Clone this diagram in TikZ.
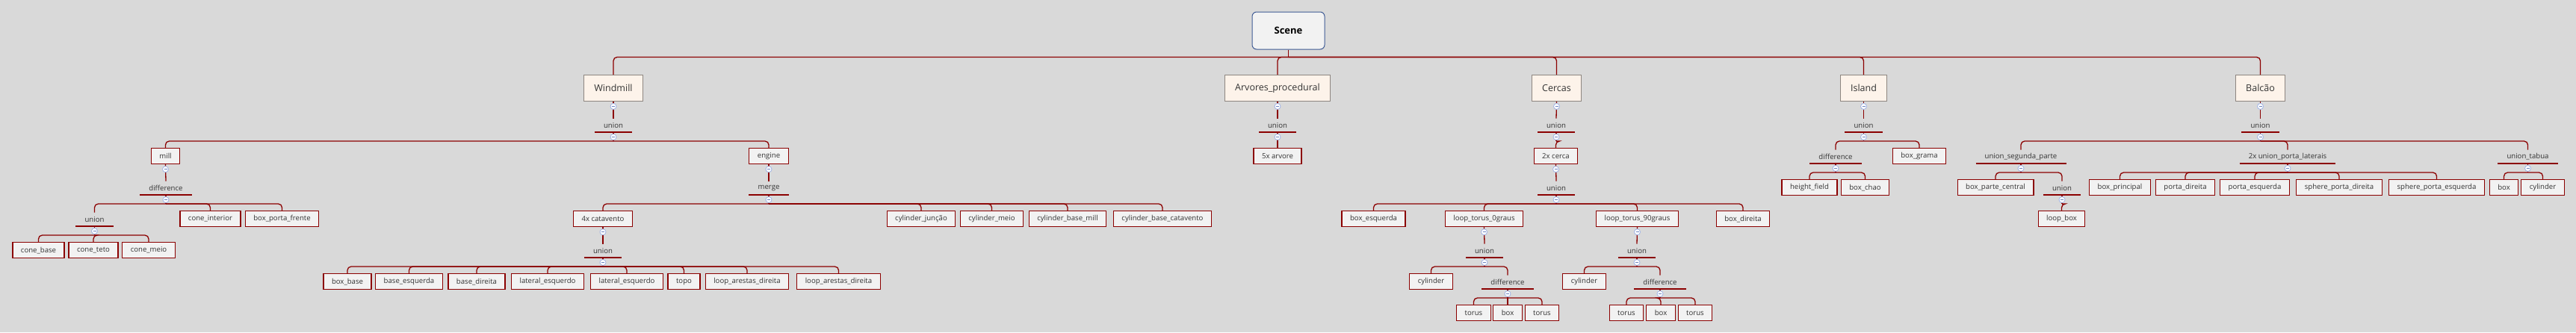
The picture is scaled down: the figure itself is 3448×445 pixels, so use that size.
\documentclass[tikz,border=0pt]{standalone}
\usepackage{fontspec}
\setmainfont{Open Sans}
\usepackage{tikz}

\definecolor{bggrey}{HTML}{D9D9D9}
\definecolor{linkred}{HTML}{8B0000}
\definecolor{leaffill}{HTML}{F2F2F2}
\definecolor{topicfill}{HTML}{FDF3EA}
\definecolor{topicline}{HTML}{8E8680}
\definecolor{rootline}{HTML}{3E5A94}
\definecolor{textgrey}{HTML}{333333}
\definecolor{foldblue}{HTML}{9FB3E6}
\definecolor{foldminus}{HTML}{6F86C0}

\newcommand\leaffont{\fontsize{9.6}{11}\selectfont}
\newcommand\topicfont{\fontsize{12.5}{14}\selectfont}
\newcommand\rootfont{\fontsize{13}{15}\selectfont\bfseries}

\begin{document}
\begin{tikzpicture}[x=1pt, y=-1pt,
    root/.style={draw=rootline, fill=leaffill, line width=1pt, rounded corners=6pt,
        minimum width=97pt, minimum height=50pt, font=\rootfont, text=black},
    topic/.style={draw=topicline, fill=topicfill, line width=1pt, anchor=north,
        minimum height=35pt, inner xsep=13.5pt, font=\topicfont, text=textgrey},
    leaf/.style={draw=linkred, fill=leaffill, line width=1.2pt, anchor=north,
        minimum height=21pt, inner xsep=11pt, inner ysep=0pt, font=\leaffont, text=textgrey},
    op/.style={anchor=south, minimum height=18pt, inner xsep=12pt, inner ysep=0pt,
        font=\leaffont, text=textgrey,
        append after command={(\tikzlastnode.south west) edge[underline] (\tikzlastnode.south east)}},
    underline/.style={draw=linkred, line width=1.4pt},
    link/.style={draw=linkred, line width=1.3pt, rounded corners=5pt},
    fold/.style={circle, draw=foldblue, fill=white, line width=0.8pt, minimum size=8pt, inner sep=0pt,
        path picture={\draw[foldminus, line width=1pt]
            ([xshift=-2pt]path picture bounding box.center) -- ([xshift=2pt]path picture bounding box.center);}}
]
    % Fundo
    \fill[bggrey] (0,0) rectangle (3448,445);
    \useasboundingbox (0,0) rectangle (3448,445);

    % Raiz
    \node[root] (scene) at (1724.5,41) {Scene};

    % Windmill
    \node[topic] (windmill) at (821,100) {Windmill};
    \node[op] (wm-union) at (821,177) {union};
    \node[leaf] (mill) at (221.5,198) {mill};
    \node[leaf] (engine) at (1029,198) {engine};
    \node[op] (mill-diff) at (222,261) {difference};
    \node[op] (mill-union) at (126.5,303) {union};
    \node[leaf] (cone-interior) at (281.5,282) {cone\_interior};
    \node[leaf] (porta-frente) at (377.5,282) {box\_porta\_frente};
    \node[leaf] (cone-base) at (51.5,324) {cone\_base};
    \node[leaf] (cone-teto) at (125,324) {cone\_teto};
    \node[leaf] (cone-meio) at (199,324) {cone\_meio};
    \node[op] (eng-merge) at (1029,261) {merge};
    \node[leaf] (catavento) at (807,282) {4x catavento};
    \node[leaf] (cyl-juncao) at (1233,282) {cylinder\_junção};
    \node[leaf] (cyl-meio) at (1327.5,282) {cylinder\_meio};
    \node[leaf] (cyl-base-mill) at (1429,282) {cylinder\_base\_mill};
    \node[leaf] (cyl-base-cat) at (1556,282) {cylinder\_base\_catavento};
    \node[op] (cat-union) at (807,345) {union};
    \node[leaf] (box-base) at (465,366) {box\_base};
    \node[leaf] (base-esq) at (547.5,366) {base\_esquerda};
    \node[leaf] (base-dir) at (638,366) {base\_direita};
    \node[leaf] (lat-esq-a) at (733,366) {lateral\_esquerdo};
    \node[leaf] (lat-esq-b) at (839,366) {lateral\_esquerdo};
    \node[leaf] (topo) at (915.5,366) {topo};
    \node[leaf] (loop-dir-a) at (1000,366) {loop\_arestas\_direita};
    \node[leaf] (loop-dir-b) at (1122.5,366) {loop\_arestas\_direita};

    % Arvores
    \node[topic] (arvores) at (1710,100) {Arvores\_procedural};
    \node[op] (arv-union) at (1710,177) {union};
    \node[leaf] (arvore) at (1710,198) {5x arvore};

    % Cercas
    \node[topic] (cercas) at (2083.5,100) {Cercas};
    \node[op] (cer-union) at (2083,177) {union};
    \node[leaf] (cerca) at (2082.5,198) {2x cerca};
    \node[op] (cerca-union) at (2083,261) {union};
    \node[leaf] (box-esq) at (1838.5,282) {box\_esquerda};
    \node[leaf] (torus0) at (1986.5,282) {loop\_torus\_0graus};
    \node[leaf] (torus90) at (2191.5,282) {loop\_torus\_90graus};
    \node[leaf] (box-dir) at (2333,282) {box\_direita};
    \node[op] (t0-union) at (1987,345) {union};
    \node[leaf] (t0-cyl) at (1915.5,366) {cylinder};
    \node[op] (t0-diff) at (2018,387) {difference};
    \node[leaf] (t0-ta) at (1972.5,408) {torus};
    \node[leaf] (t0-box) at (2018,408) {box};
    \node[leaf] (t0-tb) at (2064,408) {torus};
    \node[op] (t90-union) at (2191,345) {union};
    \node[leaf] (t90-cyl) at (2120.5,366) {cylinder};
    \node[op] (t90-diff) at (2222,387) {difference};
    \node[leaf] (t90-ta) at (2177,408) {torus};
    \node[leaf] (t90-box) at (2223,408) {box};
    \node[leaf] (t90-tb) at (2269,408) {torus};

    % Island
    \node[topic] (island) at (2494.5,100) {Island};
    \node[op] (isl-union) at (2494.5,177) {union};
    \node[op] (isl-diff) at (2457,219) {difference};
    \node[leaf] (grama) at (2569,198) {box\_grama};
    \node[leaf] (height) at (2422,240) {height\_field};
    \node[leaf] (chao) at (2496.5,240) {box\_chao};

    % Balcao
    \node[topic] (balcao) at (3025.5,100) {Balcão};
    \node[op] (bal-union) at (3025.5,177) {union};
    \node[op] (segunda) at (2705,219) {union\_segunda\_parte};
    \node[op] (laterais) at (3062,219) {2x union\_porta\_laterais};
    \node[op] (tabua) at (3383.5,219) {union\_tabua};
    \node[leaf] (parte-central) at (2671,240) {box\_parte\_central};
    \node[op] (seg-union) at (2760,261) {union};
    \node[leaf] (loop-box) at (2759.5,282) {loop\_box};
    \node[leaf] (principal) at (2837.5,240) {box\_principal};
    \node[leaf] (porta-dir) at (2925,240) {porta\_direita};
    \node[leaf] (porta-esq) at (3018,240) {porta\_esquerda};
    \node[leaf] (sphere-dir) at (3131,240) {sphere\_porta\_direita};
    \node[leaf] (sphere-esq) at (3261.5,240) {sphere\_porta\_esquerda};
    \node[leaf] (tabua-box) at (3351.5,240) {box};
    \node[leaf] (tabua-cyl) at (3403.5,240) {cylinder};

    % Ligacoes da raiz
    \draw[link] (scene.south) -- ++(0,10);
    \foreach \c in {windmill,arvores,cercas,island,balcao}
        \draw[link] (scene.south) ++(0,10) -| (\c.north);

    % No -> operacao
    \foreach \p/\o in {windmill/wm-union, mill/mill-diff, engine/eng-merge, catavento/cat-union,
            arvores/arv-union, cercas/cer-union, cerca/cerca-union, torus0/t0-union,
            torus90/t90-union, island/isl-union, balcao/bal-union}
        \draw[link] (\p.south) -- (\o.north);

    % Operacao -> filhos
    \foreach \o/\kids in {wm-union/{mill,engine},
            mill-diff/{mill-union,cone-interior,porta-frente},
            mill-union/{cone-base,cone-teto,cone-meio},
            eng-merge/{catavento,cyl-juncao,cyl-meio,cyl-base-mill,cyl-base-cat},
            cat-union/{box-base,base-esq,base-dir,lat-esq-a,lat-esq-b,topo,loop-dir-a,loop-dir-b},
            arv-union/{arvore}, cer-union/{cerca},
            cerca-union/{box-esq,torus0,torus90,box-dir},
            t0-union/{t0-cyl,t0-diff}, t0-diff/{t0-ta,t0-box,t0-tb},
            t90-union/{t90-cyl,t90-diff}, t90-diff/{t90-ta,t90-box,t90-tb},
            isl-union/{isl-diff,grama}, isl-diff/{height,chao},
            bal-union/{segunda,laterais,tabua},
            segunda/{parte-central,seg-union}, seg-union/{loop-box},
            laterais/{principal,porta-dir,porta-esq,sphere-dir,sphere-esq},
            tabua/{tabua-box,tabua-cyl}} {
        \draw[link] (\o.south) -- ++(0,12);
        \foreach \c in \kids
            \draw[link] (\o.south) ++(0,12) -| (\c.north);
    }

    % Botoes de recolher
    \foreach \n in {windmill, wm-union, mill, mill-diff, mill-union, engine, eng-merge,
            catavento, cat-union, arvores, arv-union, cercas, cer-union, cerca, cerca-union,
            torus0, t0-union, t0-diff, torus90, t90-union, t90-diff, island, isl-union,
            isl-diff, balcao, bal-union, segunda, seg-union, laterais, tabua}
        \node[fold] (f-\n) at ([yshift=-6.5pt]\n.south) {};
\end{tikzpicture}
\end{document}
